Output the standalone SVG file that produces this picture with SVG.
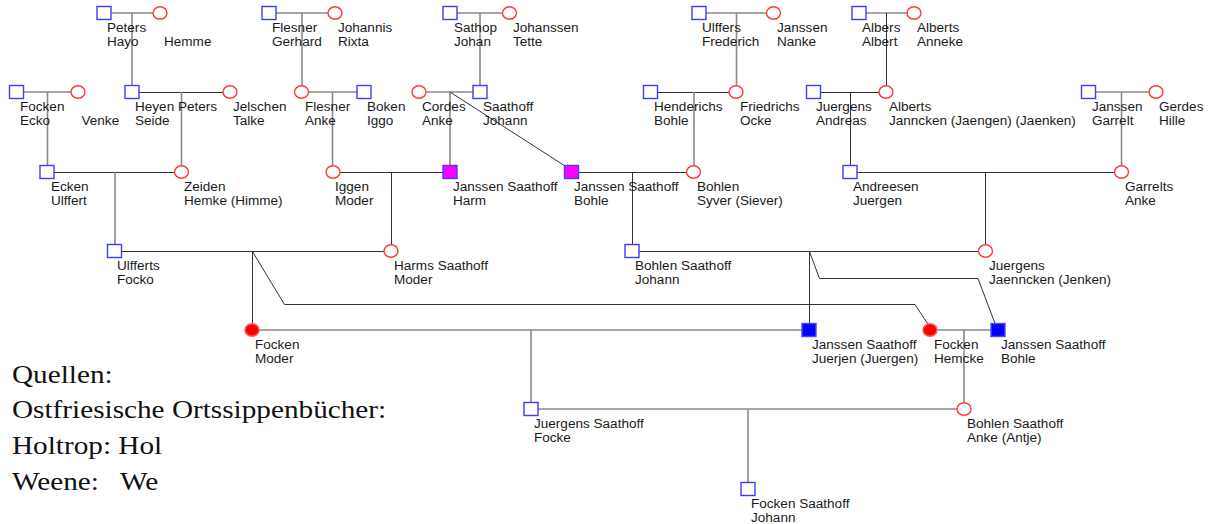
<svg xmlns="http://www.w3.org/2000/svg" width="1209" height="524" viewBox="0 0 1209 524">
  <style>
    .ln { fill: none; stroke: #333; stroke-width: 1; }
    .lg { fill: none; stroke: #8a8a8a; stroke-width: 1.6; }
    .m { fill: #fff; stroke: #3c3cff; stroke-width: 1.4; }
    .f { fill: #fff; stroke: #ff3c3c; stroke-width: 1.4; }
    .mx { fill: #ff00ff; stroke: #4a3cff; stroke-width: 1.4; }
    .mb { fill: #0000ff; stroke: #4848ff; stroke-width: 1.4; }
    .fr { fill: #ff0000; stroke: #ff5a5a; stroke-width: 1.4; }
    .t { font-family: "Liberation Sans", Arial, sans-serif; font-size: 12px; fill: #1a1a1a;
         transform-box: fill-box; transform-origin: 0 0; transform: scaleX(1.13); }
    .src { font-family: "Liberation Serif", "Times New Roman", serif; font-size: 25px; fill: #111; }
  </style>
  <rect width="1209" height="524" fill="#fff"/>

  <!-- lines of descent and partnership -->
  <g id="connectors">
    <!-- generation 1 couples -->
    <path class="lg" d="M111 13 H153 M132 13 V85.5"/>
    <path class="lg" d="M276 13 H328 M302 13 V86"/>
    <path class="lg" d="M457 13 H502.5 M480 13 V85.5"/>
    <path class="lg" d="M706 13 H766.5 M736.5 13 V86"/>
    <path class="lg" d="M866 13 H907"/>
    <path class="ln" d="M886.5 13 V86"/>
    <!-- generation 2 couples -->
    <path class="lg" d="M23.5 92 H71 M47.5 92 V165.5"/>
    <path class="ln" d="M139 92.5 H223"/>
    <path class="lg" d="M181.5 92 V166"/>
    <path class="lg" d="M308.5 92 H357 M332.5 92 V166"/>
    <path class="lg" d="M426 92 H473 M450 92 V165.5"/>
    <path class="ln" d="M450 92 L565 166"/>
    <path class="ln" d="M657.5 92.5 H729"/>
    <path class="lg" d="M694 92 V166"/>
    <path class="ln" d="M820.5 92.5 H879 M850.5 92 V165.5"/>
    <path class="lg" d="M1095.5 92 H1149 M1121.5 92 V166"/>
    <!-- generation 3 couples -->
    <path class="ln" d="M54 172.5 H174.5"/>
    <path class="lg" d="M115 172 V244.5"/>
    <path class="ln" d="M340 172.5 H443 M391.5 172 V245"/>
    <path class="ln" d="M578.5 172.5 H686.5 M632.5 172 V244.5"/>
    <path class="ln" d="M857 172.5 H1114.5 M985.5 172 V245"/>
    <!-- generation 4 couples -->
    <path class="ln" d="M121.5 251.5 H384 M252.5 251 V324"/>
    <path class="ln" d="M252.5 251.5 L284.5 304.5 H915 L928.5 325"/>
    <path class="ln" d="M639 251.5 H978.5 M809.5 251 V323.5"/>
    <path class="ln" d="M809.5 251.5 L819.5 278.5 H978 L995 323.5"/>
    <!-- generation 5 couples -->
    <path class="lg" d="M259 330 H802 M531 330 V402.5"/>
    <path class="lg" d="M937 330 H991 M964 330 V403"/>
    <!-- generation 6 couple -->
    <path class="lg" d="M538 409 H957 M748 409 V482.5"/>
  </g>

  <!-- generation 1 -->
  <g id="peters-hayo"><rect class="m" x="97" y="6.5" width="14" height="13"/>
    <text class="t" x="107" y="32.5"><tspan x="107">Peters</tspan><tspan x="107" dy="13.5">Hayo</tspan></text></g>
  <g id="hemme"><ellipse class="f" cx="160" cy="13" rx="7" ry="6.2"/>
    <text class="t" x="164" y="46">Hemme</text></g>
  <g id="flesner-gerhard"><rect class="m" x="262" y="6.5" width="14" height="13"/>
    <text class="t" x="272" y="32.5"><tspan x="272">Flesner</tspan><tspan x="272" dy="13.5">Gerhard</tspan></text></g>
  <g id="johannis-rixta"><ellipse class="f" cx="335" cy="13" rx="7" ry="6.2"/>
    <text class="t" x="338" y="32.5"><tspan x="338">Johannis</tspan><tspan x="338" dy="13.5">Rixta</tspan></text></g>
  <g id="sathop-johan"><rect class="m" x="443" y="6.5" width="14" height="13"/>
    <text class="t" x="454" y="32.5"><tspan x="454">Sathop</tspan><tspan x="454" dy="13.5">Johan</tspan></text></g>
  <g id="johanssen-tette"><ellipse class="f" cx="509.5" cy="13" rx="7" ry="6.2"/>
    <text class="t" x="513" y="32.5"><tspan x="513">Johanssen</tspan><tspan x="513" dy="13.5">Tette</tspan></text></g>
  <g id="ulffers-frederich"><rect class="m" x="692" y="6.5" width="14" height="13"/>
    <text class="t" x="702" y="32.5"><tspan x="702">Ulffers</tspan><tspan x="702" dy="13.5">Frederich</tspan></text></g>
  <g id="janssen-nanke"><ellipse class="f" cx="773.5" cy="13" rx="7" ry="6.2"/>
    <text class="t" x="777" y="32.5"><tspan x="777">Janssen</tspan><tspan x="777" dy="13.5">Nanke</tspan></text></g>
  <g id="albers-albert"><rect class="m" x="852" y="6.5" width="14" height="13"/>
    <text class="t" x="862" y="32.5"><tspan x="862">Albers</tspan><tspan x="862" dy="13.5">Albert</tspan></text></g>
  <g id="alberts-anneke"><ellipse class="f" cx="914" cy="13" rx="7" ry="6.2"/>
    <text class="t" x="917" y="32.5"><tspan x="917">Alberts</tspan><tspan x="917" dy="13.5">Anneke</tspan></text></g>

  <!-- generation 2 -->
  <g id="focken-ecko"><rect class="m" x="9.5" y="85.5" width="14" height="13"/>
    <text class="t" x="20" y="111.5"><tspan x="20">Focken</tspan><tspan x="20" dy="13.5">Ecko</tspan></text></g>
  <g id="venke"><ellipse class="f" cx="78" cy="92" rx="7" ry="6.2"/>
    <text class="t" x="81.5" y="125">Venke</text></g>
  <g id="heyen-peters-seide"><rect class="m" x="125" y="85.5" width="14" height="13"/>
    <text class="t" x="135" y="111.5"><tspan x="135">Heyen Peters</tspan><tspan x="135" dy="13.5">Seide</tspan></text></g>
  <g id="jelschen-talke"><ellipse class="f" cx="230" cy="92" rx="7" ry="6.2"/>
    <text class="t" x="233" y="111.5"><tspan x="233">Jelschen</tspan><tspan x="233" dy="13.5">Talke</tspan></text></g>
  <g id="flesner-anke"><ellipse class="f" cx="301.5" cy="92" rx="7" ry="6.2"/>
    <text class="t" x="305" y="111.5"><tspan x="305">Flesner</tspan><tspan x="305" dy="13.5">Anke</tspan></text></g>
  <g id="boken-iggo"><rect class="m" x="357" y="85.5" width="14" height="13"/>
    <text class="t" x="367" y="111.5"><tspan x="367">Boken</tspan><tspan x="367" dy="13.5">Iggo</tspan></text></g>
  <g id="cordes-anke"><ellipse class="f" cx="419" cy="92" rx="7" ry="6.2"/>
    <text class="t" x="422" y="111.5"><tspan x="422">Cordes</tspan><tspan x="422" dy="13.5">Anke</tspan></text></g>
  <g id="saathoff-johann"><rect class="m" x="473" y="85.5" width="14" height="13"/>
    <text class="t" x="483" y="111.5"><tspan x="483">Saathoff</tspan><tspan x="483" dy="13.5">Johann</tspan></text></g>
  <g id="henderichs-bohle"><rect class="m" x="643.5" y="85.5" width="14" height="13"/>
    <text class="t" x="654" y="111.5"><tspan x="654">Henderichs</tspan><tspan x="654" dy="13.5">Bohle</tspan></text></g>
  <g id="friedrichs-ocke"><ellipse class="f" cx="736" cy="92" rx="7" ry="6.2"/>
    <text class="t" x="740" y="111.5"><tspan x="740">Friedrichs</tspan><tspan x="740" dy="13.5">Ocke</tspan></text></g>
  <g id="juergens-andreas"><rect class="m" x="806.5" y="85.5" width="14" height="13"/>
    <text class="t" x="816" y="111.5"><tspan x="816">Juergens</tspan><tspan x="816" dy="13.5">Andreas</tspan></text></g>
  <g id="alberts-janncken"><ellipse class="f" cx="886" cy="92" rx="7" ry="6.2"/>
    <text class="t" x="889" y="111.5"><tspan x="889">Alberts</tspan><tspan x="889" dy="13.5">Janncken (Jaengen) (Jaenken)</tspan></text></g>
  <g id="janssen-garrelt"><rect class="m" x="1081.5" y="85.5" width="14" height="13"/>
    <text class="t" x="1092" y="111.5"><tspan x="1092">Janssen</tspan><tspan x="1092" dy="13.5">Garrelt</tspan></text></g>
  <g id="gerdes-hille"><ellipse class="f" cx="1156" cy="92" rx="7" ry="6.2"/>
    <text class="t" x="1159" y="111.5"><tspan x="1159">Gerdes</tspan><tspan x="1159" dy="13.5">Hille</tspan></text></g>

  <!-- generation 3 -->
  <g id="ecken-ulffert"><rect class="m" x="40" y="165.5" width="14" height="13"/>
    <text class="t" x="51" y="191.5"><tspan x="51">Ecken</tspan><tspan x="51" dy="13.5">Ulffert</tspan></text></g>
  <g id="zeiden-hemke"><ellipse class="f" cx="181.5" cy="172" rx="7" ry="6.2"/>
    <text class="t" x="184" y="191.5"><tspan x="184">Zeiden</tspan><tspan x="184" dy="13.5">Hemke (Himme)</tspan></text></g>
  <g id="iggen-moder"><ellipse class="f" cx="333" cy="172" rx="7" ry="6.2"/>
    <text class="t" x="335" y="191.5"><tspan x="335">Iggen</tspan><tspan x="335" dy="13.5">Moder</tspan></text></g>
  <g id="janssen-saathoff-harm"><rect class="mx" x="443" y="165.5" width="14" height="13"/>
    <text class="t" x="453" y="191.5"><tspan x="453">Janssen Saathoff</tspan><tspan x="453" dy="13.5">Harm</tspan></text></g>
  <g id="janssen-saathoff-bohle-1"><rect class="mx" x="564.5" y="165.5" width="14" height="13"/>
    <text class="t" x="574" y="191.5"><tspan x="574">Janssen Saathoff</tspan><tspan x="574" dy="13.5">Bohle</tspan></text></g>
  <g id="bohlen-syver"><ellipse class="f" cx="693.5" cy="172" rx="7" ry="6.2"/>
    <text class="t" x="697" y="191.5"><tspan x="697">Bohlen</tspan><tspan x="697" dy="13.5">Syver (Siever)</tspan></text></g>
  <g id="andreesen-juergen"><rect class="m" x="843" y="165.5" width="14" height="13"/>
    <text class="t" x="853" y="191.5"><tspan x="853">Andreesen</tspan><tspan x="853" dy="13.5">Juergen</tspan></text></g>
  <g id="garrelts-anke"><ellipse class="f" cx="1121.5" cy="172" rx="7" ry="6.2"/>
    <text class="t" x="1125" y="191.5"><tspan x="1125">Garrelts</tspan><tspan x="1125" dy="13.5">Anke</tspan></text></g>

  <!-- generation 4 -->
  <g id="ulfferts-focko"><rect class="m" x="107.5" y="244.5" width="14" height="13"/>
    <text class="t" x="117" y="270.5"><tspan x="117">Ulfferts</tspan><tspan x="117" dy="13.5">Focko</tspan></text></g>
  <g id="harms-saathoff-moder"><ellipse class="f" cx="391" cy="251" rx="7" ry="6.2"/>
    <text class="t" x="394" y="270.5"><tspan x="394">Harms Saathoff</tspan><tspan x="394" dy="13.5">Moder</tspan></text></g>
  <g id="bohlen-saathoff-johann"><rect class="m" x="625" y="244.5" width="14" height="13"/>
    <text class="t" x="635" y="270.5"><tspan x="635">Bohlen Saathoff</tspan><tspan x="635" dy="13.5">Johann</tspan></text></g>
  <g id="juergens-jaenncken"><ellipse class="f" cx="985.5" cy="251" rx="7" ry="6.2"/>
    <text class="t" x="989" y="270.5"><tspan x="989">Juergens</tspan><tspan x="989" dy="13.5">Jaenncken (Jenken)</tspan></text></g>

  <!-- generation 5 -->
  <g id="focken-moder"><ellipse class="fr" cx="252" cy="330" rx="7" ry="6.2"/>
    <text class="t" x="255" y="349.5"><tspan x="255">Focken</tspan><tspan x="255" dy="13.5">Moder</tspan></text></g>
  <g id="janssen-saathoff-juerjen"><rect class="mb" x="802" y="323.5" width="14" height="13"/>
    <text class="t" x="812" y="349.5"><tspan x="812">Janssen Saathoff</tspan><tspan x="812" dy="13.5">Juerjen (Juergen)</tspan></text></g>
  <g id="focken-hemcke"><ellipse class="fr" cx="930" cy="330" rx="7" ry="6.2"/>
    <text class="t" x="934" y="349.5"><tspan x="934">Focken</tspan><tspan x="934" dy="13.5">Hemcke</tspan></text></g>
  <g id="janssen-saathoff-bohle-2"><rect class="mb" x="991" y="323.5" width="14" height="13"/>
    <text class="t" x="1001" y="349.5"><tspan x="1001">Janssen Saathoff</tspan><tspan x="1001" dy="13.5">Bohle</tspan></text></g>

  <!-- generation 6 -->
  <g id="juergens-saathoff-focke"><rect class="m" x="524" y="402.5" width="14" height="13"/>
    <text class="t" x="534" y="428.5"><tspan x="534">Juergens Saathoff</tspan><tspan x="534" dy="13.5">Focke</tspan></text></g>
  <g id="bohlen-saathoff-anke"><ellipse class="f" cx="964" cy="409" rx="7" ry="6.2"/>
    <text class="t" x="967" y="428.5"><tspan x="967">Bohlen Saathoff</tspan><tspan x="967" dy="13.5">Anke (Antje)</tspan></text></g>

  <!-- generation 7 -->
  <g id="focken-saathoff-johann"><rect class="m" x="741" y="482.5" width="14" height="13"/>
    <text class="t" x="751" y="508.5"><tspan x="751">Focken Saathoff</tspan><tspan x="751" dy="13.5">Johann</tspan></text></g>

  <!-- sources -->
  <g id="sources">
    <text class="src" transform="translate(12 383) scale(1.17 1)">Quellen:</text>
    <text class="src" transform="translate(12 418) scale(1.17 1)">Ostfriesische Ortssippenbücher:</text>
    <text class="src" transform="translate(12 454) scale(1.17 1)">Holtrop: Hol</text>
    <text class="src" transform="translate(12 489.5) scale(1.17 1)">Weene:<tspan x="92.3">We</tspan></text>
  </g>
</svg>
